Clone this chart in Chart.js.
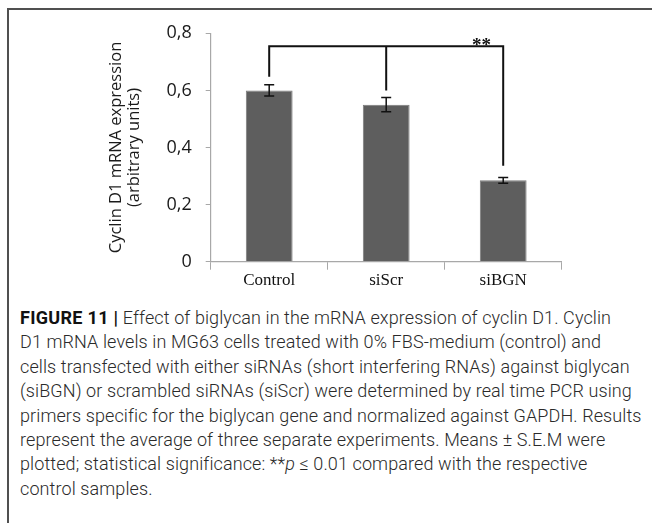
<!DOCTYPE html>
<html>
<head>
<meta charset="utf-8">
<script src="https://cdn.jsdelivr.net/npm/chart.js@4/dist/chart.umd.min.js"></script>
<style>
  html, body { margin: 0; padding: 0; background: #fff; }
  body { width: 652px; height: 523px; position: relative; overflow: hidden; }
  #frame {
    position: absolute; left: 7px; top: 8px; width: 645px; height: 515px;
    border-top: 2px solid #505050; border-left: 2px solid #505050;
  }
  #chart { position: absolute; left: 0; top: 0; }
  #caption {
    position: absolute; left: 20px; top: 306px;
    font-family: Roboto, "Liberation Sans", sans-serif; font-weight: 300;
    font-size: 18px; letter-spacing: 0.1px; line-height: 24.4px; color: #2a2a2a;
  }
  #caption div { white-space: nowrap; }
  #caption b { font-weight: 700; color: #111; letter-spacing: 0.3px; }
</style>
</head>
<body>
<div id="frame"></div>
<canvas id="chart" width="652" height="300"></canvas>
<div id="caption">
  <div><b>FIGURE 11 |</b> Effect of biglycan in the mRNA expression of cyclin D1. Cyclin</div>
  <div>D1 mRNA levels in MG63 cells treated with 0% FBS-medium (control) and</div>
  <div>cells transfected with either siRNAs (short interfering RNAs) against biglycan</div>
  <div>(siBGN) or scrambled siRNAs (siScr) were determined by real time PCR using</div>
  <div>primers specific for the biglycan gene and normalized against GAPDH. Results</div>
  <div>represent the average of three separate experiments. Means ± S.E.M were</div>
  <div>plotted; statistical significance: **<i>p</i> ≤ 0.01 compared with the respective</div>
  <div>control samples.</div>
</div>
<script>
// chart data
const categories = ['Control', 'siScr', 'siBGN'];
const expression = [0.6, 0.55, 0.285];
const sem = [0.02, 0.025, 0.01];
const yTicks = [0, 0.2, 0.4, 0.6, 0.8];
const yTitle = ['Cyclin D1 mRNA expression', '(arbitrary units)'];

// significance bracket (value where the bar starts / ends for each group)
const bracketTop = 0.755;
const bracketFeet = [0.648, 0.6, 0.336];
const significance = '**';

const errorBars = {
  id: 'errorBars',
  afterDatasetsDraw(chart) {
    const ctx = chart.ctx;
    const y = chart.scales.y;
    const meta = chart.getDatasetMeta(0);
    ctx.save();
    ctx.strokeStyle = '#111';
    ctx.lineWidth = 1.5;
    meta.data.forEach((bar, i) => {
      const top = y.getPixelForValue(expression[i] + sem[i]);
      const bot = y.getPixelForValue(expression[i] - sem[i]);
      ctx.beginPath();
      ctx.moveTo(bar.x, top); ctx.lineTo(bar.x, bot);
      ctx.moveTo(bar.x - 5, top); ctx.lineTo(bar.x + 5, top);
      ctx.moveTo(bar.x - 5, bot); ctx.lineTo(bar.x + 5, bot);
      ctx.stroke();
    });
    ctx.restore();
  }
};

const bracket = {
  id: 'bracket',
  afterDatasetsDraw(chart) {
    const ctx = chart.ctx;
    const x = chart.scales.x;
    const y = chart.scales.y;
    const yTop = y.getPixelForValue(bracketTop);
    const xs = categories.map((c, i) => x.getPixelForValue(i));
    ctx.save();
    ctx.strokeStyle = '#111';
    ctx.lineWidth = 2;
    ctx.beginPath();
    ctx.moveTo(xs[0], y.getPixelForValue(bracketFeet[0]));
    ctx.lineTo(xs[0], yTop);
    ctx.lineTo(xs[xs.length - 1], yTop);
    ctx.lineTo(xs[xs.length - 1], y.getPixelForValue(bracketFeet[bracketFeet.length - 1]));
    for (let i = 1; i < xs.length - 1; i++) {
      ctx.moveTo(xs[i], yTop);
      ctx.lineTo(xs[i], y.getPixelForValue(bracketFeet[i]));
    }
    ctx.stroke();
    ctx.fillStyle = '#111';
    ctx.font = 'bold 19px "Liberation Serif"';
    ctx.textAlign = 'center';
    ctx.textBaseline = 'alphabetic';
    const step = xs[1] - xs[0];
    ctx.fillText(significance, xs[xs.length - 1] - step * 0.185, yTop + 5);
    ctx.restore();
  }
};

const ctx = document.getElementById('chart').getContext('2d');
new Chart(ctx, {
  type: 'bar',
  data: {
    labels: categories,
    datasets: [{
      data: expression,
      backgroundColor: '#5e5e5e',
      borderColor: '#7a7a7a',
      borderWidth: 1,
      barPercentage: 0.4,
      categoryPercentage: 1,
    }],
  },
  options: {
    responsive: false,
    animation: false,
    layout: { padding: { left: 0, right: 90.3, top: 33.3, bottom: 0 } },
    plugins: { legend: { display: false }, tooltip: { enabled: false } },
    scales: {
      x: {
        grid: { offset: true, drawOnChartArea: false, tickLength: 8, color: '#a8a8a8' },
        border: { color: '#a8a8a8', width: 1.2 },
        ticks: { color: '#111', padding: 1, font: { family: 'Liberation Serif', size: 17 } },
        afterFit: (s) => { s.height = 38.3; },
      },
      y: {
        min: 0,
        max: 0.8,
        afterBuildTicks: (s) => { s.ticks = yTicks.map(v => ({ value: v })); },
        grid: { drawOnChartArea: false, tickLength: 5, color: '#a8a8a8' },
        border: { color: '#a8a8a8', width: 1.2 },
        ticks: {
          color: '#1a1a1a',
          padding: 14,
          font: { family: 'Open Sans', size: 18 },
          callback: (v) => v === 0 ? '0' : v.toFixed(1).replace('.', ','),
        },
        title: {
          display: true,
          text: yTitle,
          color: '#1a1a1a',
          padding: { top: 108, bottom: 0 },
          font: { family: 'Open Sans', size: 16.5, lineHeight: 1.05 },
        },
        afterFit: (s) => { s.width = 210.7; },
      },
    },
  },
  plugins: [errorBars, bracket],
});
</script>
</body>
</html>
